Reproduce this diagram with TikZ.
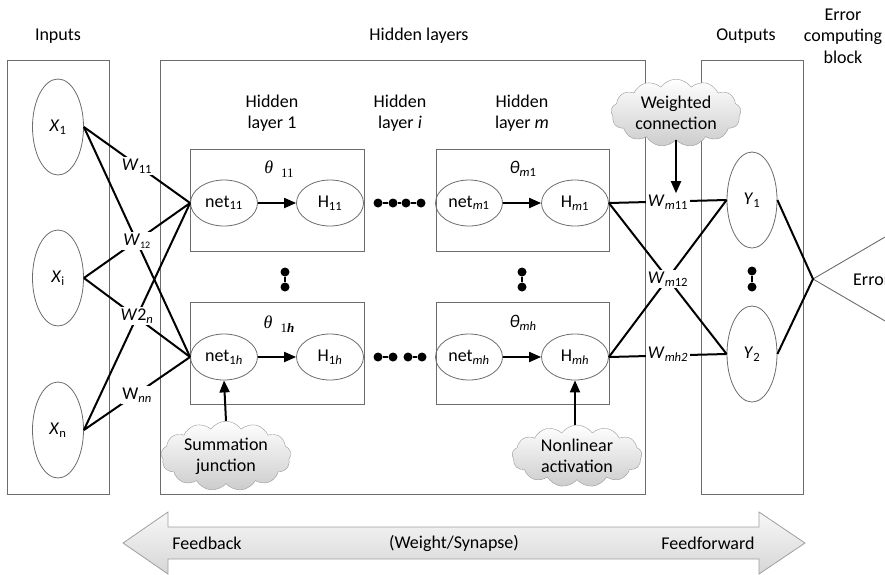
\documentclass[tikz,border=0pt]{standalone}
\usepackage{fontspec}
\setmainfont{Carlito}
\newfontfamily\serifgr{Liberation Serif}
\usetikzlibrary{shapes.geometric,shapes.symbols,arrows.meta}

\tikzset{
  block/.style={draw=gray!85!black, line width=0.9pt},
  oval/.style={ellipse, draw=gray!85!black, line width=0.8pt, inner sep=0pt,
    minimum width=67, minimum height=46},
  inoval/.style={oval, minimum width=51, minimum height=96},
  conn/.style={line width=2pt, black},
  arr/.style={conn, -{Triangle[length=12pt,width=10pt]}},
  cloudbox/.style={cloud, cloud puffs=13, cloud puff arc=110, aspect=2.1,
    draw=gray!80, top color=white, bottom color=gray!40, inner sep=0pt,
    minimum width=130, minimum height=62, align=center},
  wlab/.style={fill=white, inner sep=1.5pt},
  blob/.style={circle, fill=black, inner sep=0pt, minimum size=9},
  title/.style={align=center, font=\fontsize{18}{21.5}\selectfont},
}
\newcommand{\sub}[1]{\textsubscript{#1}}

\begin{document}
\begin{tikzpicture}[x=1pt, y=-1pt, font=\fontsize{18}{21}\selectfont]
\path[use as bounding box] (0,0) rectangle (885,574);
\clip (0,0) rectangle (885,574);

% titles
\node[title] (tin)  at (58,36)  {Inputs};
\node[title] (thid) at (419,36) {Hidden layers};
\node[title] (tout) at (746,36) {Outputs};
\node[title] (terr) at (843,36) {Error\\computing\\block};
\node[title] (hl1) at (272,113) {Hidden\\layer 1};
\node[title] (hli) at (400,113) {Hidden\\layer \textit{i}};
\node[title] (hlm) at (522,113) {Hidden\\layer \textit{m}};

% frames
\draw[block] (7,60) rectangle (109,494);
\draw[block] (160,60) rectangle (645,494);
\draw[block] (701,60) rectangle (803,494);
\draw[block] (190,149) rectangle (364,251);
\draw[block] (190,302) rectangle (364,404);
\draw[block] (436,149) rectangle (609,251);
\draw[block] (436,302) rectangle (609,404);

% neuron thresholds
\node (th11) at (279,169) {\serifgr\textit{θ}\hspace{0.45em}\raisebox{-4pt}{\fontsize{13}{13}\selectfont 11}};
\node (th1h) at (279,324) {\serifgr\textit{θ}\hspace{0.45em}\raisebox{-4pt}{\fontsize{13}{13}\selectfont 1\textit{\textbf{h}}}};
\node (thm1) at (523,169) {\textit{θ}\sub{\textit{m}1}};
\node (thmh) at (523,323) {\textit{θ}\sub{\textit{mh}}};

% input neurons
\node[inoval] (X1) at (58,127) {\textit{X}\sub{1}};
\node[inoval] (Xi) at (58,278) {\textit{X}\sub{i}};
\node[inoval] (Xn) at (58,430) {\textit{X}\sub{n}};

% hidden neurons
\node[oval] (net11) at (224,203) {net\sub{11}};
\node[oval] (H11)   at (330,203) {H\sub{11}};
\node[oval] (net1h) at (224,357) {net\sub{1\textit{h}}};
\node[oval] (H1h)   at (330,357) {H\sub{1\textit{h}}};
\node[oval] (netm1) at (469,203) {net\sub{\textit{m}1}};
\node[oval] (Hm1)   at (575,203) {H\sub{\textit{m}1}};
\node[oval] (netmh) at (469,357) {net\sub{\textit{mh}}};
\node[oval] (Hmh)   at (575,357) {H\sub{\textit{mh}}};

% output neurons
\node[inoval, minimum width=50] (Y1) at (752,200) {\textit{Y}\sub{1}};
\node[inoval, minimum width=50] (Y2) at (752,354) {\textit{Y}\sub{2}};

% summation -> activation
\draw[arr] (net11) -- (H11);
\draw[arr] (net1h) -- (H1h);
\draw[arr] (netm1) -- (Hm1);
\draw[arr] (netmh) -- (Hmh);

% input connections
\draw[conn] (X1.east) -- (net11.west);
\draw[conn] (X1.east) -- (net1h.west);
\draw[conn] (Xi.east) -- (net11.west);
\draw[conn] (Xi.east) -- (net1h.west);
\draw[conn] (Xn.east) -- (net11.west);
\draw[conn] (Xn.east) -- (net1h.west);

% output connections
\draw[conn] (Hm1.east) -- (Y1.west);
\draw[conn] (Hm1.east) -- (Y2.west);
\draw[conn] (Hmh.east) -- (Y1.west);
\draw[conn] (Hmh.east) -- (Y2.west);

% weights
\node[wlab] (W11) at (137,166) {\textit{W}\sub{11}};
\node[wlab] (W12) at (137,241) {\textit{W}\sub{\fontsize{10}{10}\selectfont 12}};
\node[wlab] (W2n) at (137,316) {\textit{W}2\sub{\textit{n}}};
\node[wlab] (Wnn) at (137,395) {W\sub{\textit{nn}}};
\node[wlab] (Wm11) at (668,202) {\textit{W}\sub{\textit{m}11}};
\node[wlab] (Wm12) at (668,279) {\textit{W}\sub{\textit{m}12}};
\node[wlab] (Wmh2) at (668,354) {\textit{W}\sub{\textit{mh2}}};

% ellipsis dots between layers
\node[blob] (d1) at (378,203) {};
\node[blob] (d2) at (393,203) {};
\node[blob] (d3) at (406,203) {};
\node[blob] (d4) at (421,203) {};
\draw[line width=1.5pt] (d1) -- (d2) -- (d3) -- (d4);
\node[blob] (e1) at (378,357) {};
\node[blob] (e2) at (393,357) {};
\node[blob] (e3) at (408,357) {};
\node[blob] (e4) at (422,357) {};
\draw[line width=1.5pt] (e1) -- (e2);
\draw[line width=1.5pt] (e3) -- (e4);

% vertical dots
\node[blob] (v1a) at (285,272) {};
\node[blob] (v1b) at (285,287) {};
\node[blob] (v2a) at (522,272) {};
\node[blob] (v2b) at (522,287) {};
\node[blob] (v3a) at (752,271) {};
\node[blob] (v3b) at (752,287) {};
\draw[line width=1.5pt] (v1a) -- (v1b);
\draw[line width=1.5pt] (v2a) -- (v2b);
\draw[line width=1.5pt] (v3a) -- (v3b);

% error computing block
\coordinate (etip) at (813,279);
\coordinate (eup) at (940,205);
\coordinate (edn) at (940,353);
\draw[gray!85!black, line width=0.9pt] (eup) -- (etip) -- (edn);
\draw[conn] (Y1.east) -- (etip) -- (Y2.east);
\node[anchor=west, inner sep=0pt] (err) at (853,280) {Error};

% callouts
\node[cloudbox] (wc) at (676,113) {Weighted\\connection};
\node[cloudbox] (sj) at (226,456) {Summation\\junction};
\node[cloudbox] (na) at (577,456) {Nonlinear\\activation};
\draw[arr] (wc.south) -- (wc.south |- Wm11.north);
\draw[arr] (sj.north) -- (net1h.south);
\draw[arr] (na.north -| Hmh.south) -- (Hmh.south);

% feedback / feedforward arrow
\path[draw=gray!75, line width=0.8pt, top color=gray!6, bottom color=gray!32]
  (123,543) -- (168,512) -- (168,527) -- (759,527) -- (759,512) -- (805,543)
  -- (759,574) -- (759,559) -- (168,559) -- (168,574) -- cycle;
\node (fb) at (207,543) {Feedback};
\node (ws) at (454,543) {(Weight/Synapse)};
\node (ff) at (708,543) {Feedforward};
\end{tikzpicture}
\end{document}
